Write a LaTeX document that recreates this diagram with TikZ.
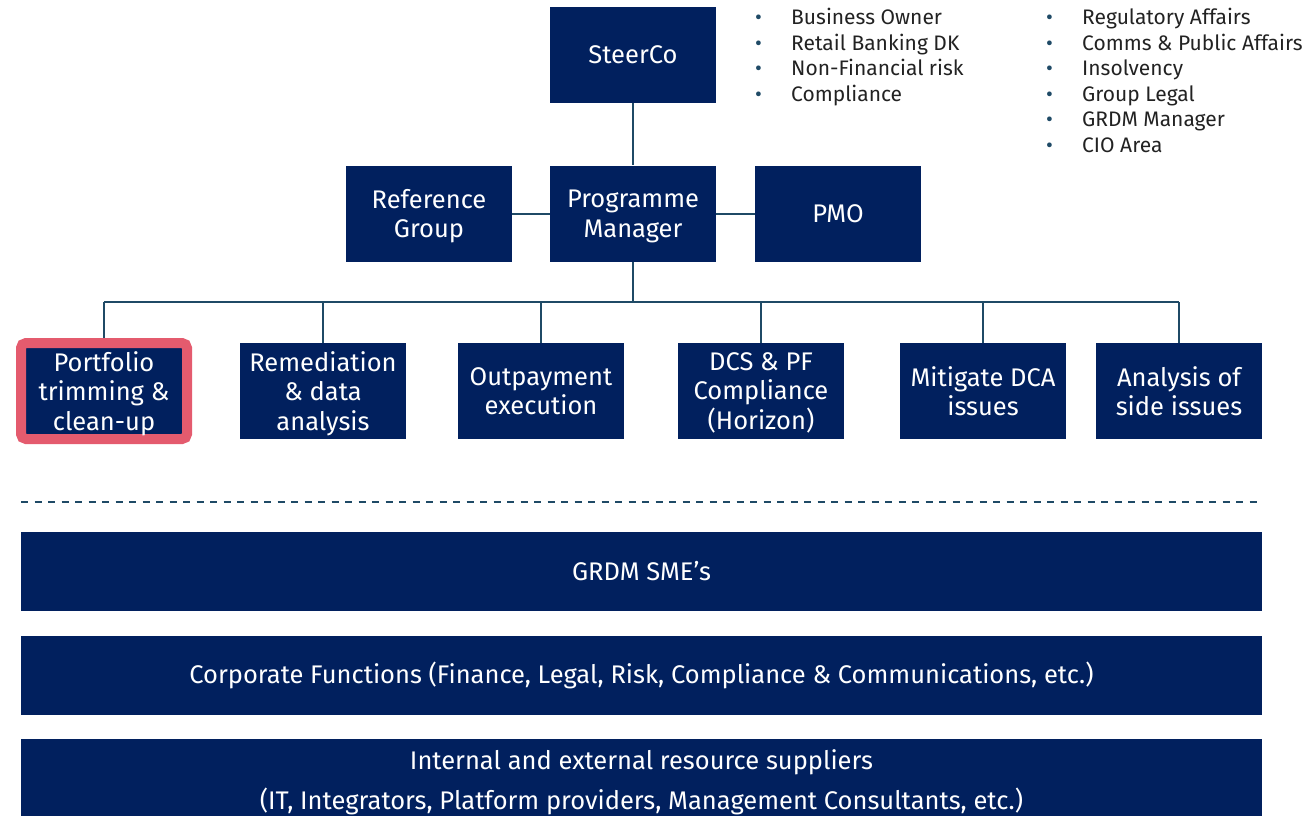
\documentclass[tikz,border=0pt]{standalone}
\usepackage{fontspec}
\setmainfont{Fira Sans}
\definecolor{navy}{HTML}{01205E}
\definecolor{lnk}{HTML}{1F4A66}
\definecolor{pinkc}{HTML}{E45B6E}
\definecolor{txt}{HTML}{222222}
\begin{document}
\begin{tikzpicture}[x=1pt,y=-1pt,
  box/.style={fill=navy, text=white, minimum width=166pt, minimum height=96pt, align=center, inner sep=2pt, text depth=0pt, font=\fontsize{25.5}{29.5}\selectfont},
  bar/.style={fill=navy, text=white, minimum width=1241pt, align=center, inner sep=0pt, font=\fontsize{25.5}{40}\selectfont},
  conn/.style={draw=lnk, line width=2pt},
  blt/.style={anchor=base west, text=txt, inner sep=0pt, font=\fontsize{21}{25.5}\selectfont}]
\useasboundingbox (0,0) rectangle (1316,815);

% top level
\node[box] (steer) at (633,55) {SteerCo};
\node[box] (ref) at (429,213.5) {Reference\\Group};
\node[box] (pm) at (633,213.5) {Programme\\Manager};
\node[box] (pmo) at (838,213.5) {PMO};

% work streams
\node[box, draw=pinkc, line width=10pt, rounded corners=5pt] (w1) at (104,391) {Portfolio\\trimming \&\\clean-up};
\node[box] (w2) at (323,391) {Remediation\\\& data\\analysis};
\node[box] (w3) at (541,391) {Outpayment\\execution};
\node[box] (w4) at (761,391) {DCS \& PF\\Compliance\\(Horizon)};
\node[box] (w5) at (983,391) {Mitigate DCA\\issues};
\node[box] (w6) at (1179,391) {Analysis of\\side issues};

% connectors
\coordinate (bus) at (633,302);
\draw[conn] (steer.south) -- (pm.north);
\draw[conn] (ref.east) -- (pm.west);
\draw[conn] (pm.east) -- (pmo.west);
\draw[conn] (pm.south) -- (bus);
\draw[conn] (w1.north |- bus) -- (w6.north |- bus);
\foreach \w in {w1,w2,w3,w4,w5,w6}{\draw[conn] (\w.north) -- (\w.north |- bus);}

% bullet lists
\node[blt] (l1) at (755,24.5) {\begin{tabular}[t]{@{}p{36pt}@{}l@{}}
\textcolor{lnk}{•} & Business Owner\\
\textcolor{lnk}{•} & Retail Banking DK\\
\textcolor{lnk}{•} & Non-Financial risk\\
\textcolor{lnk}{•} & Compliance
\end{tabular}};
\node[blt] (l2) at (1046,24.5) {\begin{tabular}[t]{@{}p{36pt}@{}l@{}}
\textcolor{lnk}{•} & Regulatory Affairs\\
\textcolor{lnk}{•} & Comms \& Public Affairs\\
\textcolor{lnk}{•} & Insolvency\\
\textcolor{lnk}{•} & Group Legal\\
\textcolor{lnk}{•} & GRDM Manager\\
\textcolor{lnk}{•} & CIO Area
\end{tabular}};

% dashed separator
\coordinate (dl) at (21,502);
\coordinate (dr) at (1262,502);
\draw[draw=lnk, line width=1.5pt, dash pattern=on 7pt off 6.5pt] (dl) -- (dr);

% bars
\node[bar, minimum height=79pt] (b1) at (641.5,571.5) {GRDM SME’s};
\node[bar, minimum height=79pt] (b2) at (641.5,675.5) {Corporate Functions (Finance, Legal, Risk, Compliance \& Communications, etc.)};
\node[bar, minimum height=86pt] (b3) at (641.5,782) {Internal and external resource suppliers\\(IT, Integrators, Platform providers, Management Consultants, etc.)};
\end{tikzpicture}
\end{document}
